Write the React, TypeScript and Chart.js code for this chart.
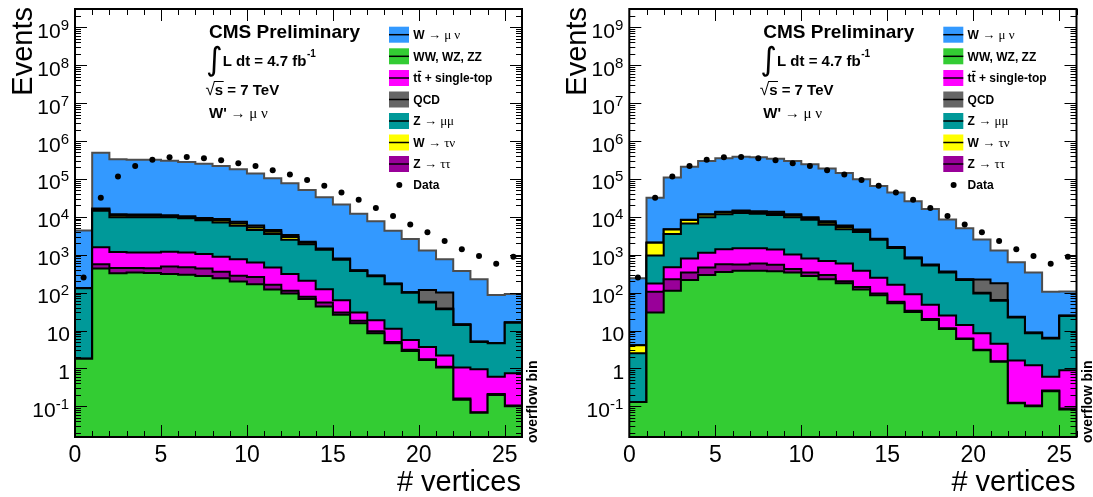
import React, { useEffect, useRef } from 'react';
import { Chart, registerables } from 'chart.js';

Chart.register(...registerables);

const SANS = '"Liberation Sans", Arial, Helvetica, sans-serif';
const SERIF = '"Liberation Serif", "DejaVu Serif", serif';

// bin lower edges (last entry = upper edge of the overflow bin)
const binEdges = [0, 1, 2, 3, 4, 5, 6, 7, 8, 9, 10, 11, 12, 13, 14, 15, 16, 17, 18, 19, 20, 21, 22, 23, 24, 25, 26];
const xTickValues = [0, 5, 10, 15, 20, 25];
const xTickLabels = ['0', '5', '10', '15', '20', '25'];
const yExponents = [-1, 0, 1, 2, 3, 4, 5, 6, 7, 8, 9];
const Y_MIN = 0.0155;
const Y_MAX = 3.04e9;

// observed data (same in both panels)
const dataCounts = [250, 32000, 115000, 220000, 320000, 370000, 380000, 350000, 310000, 260000, 220000, 170000, 130000, 93000, 66000, 44000, 28000, 17000, 10500, 6300, 3900, 2300, 1400, 930, 580, 890];

// left panel (no reweighting)
const leftWW = [1.8, 435, 325, 340, 330, 310, 295, 275, 240, 195, 165, 120, 95, 68, 43, 26, 15.5, 8.5, 4.6, 2.9, 1.66, 1.05, 0.15, 0.068, 0.2, 0.1];
const leftZtautau = [0, 125, 120, 105, 110, 180, 175, 155, 115, 85, 95, 40, 17, 10, 12, 4, 2.5, 1, 0.4, 0.2, 0.09, 0.05, 0.01, 0.002, 0.01, 0.005];
const leftTop = [0, 1020, 735, 705, 710, 710, 680, 620, 535, 480, 360, 300, 198, 127, 68, 33, 12, 9.1, 6.2, 2.5, 1.95, 1.1, 0.89, 0.88, 0.39, 0.64];
const leftZmumu = [128, 12900, 8600, 8650, 8650, 8500, 7950, 7050, 6200, 5040, 3880, 3040, 2190, 1695, 1227, 677, 340, 251, 154, 94, 51, 34, 13, 4, 4, 15.3];
const leftWtaunu = [0, 1100, 1000, 900, 900, 700, 700, 650, 850, 850, 750, 550, 450, 170, 60, 30, 12, 9, 6, 2, 3, 2, 0.3, 0.1, 0.05, 0.3];
const leftQCD = [0, 900, 900, 800, 800, 600, 600, 550, 750, 750, 650, 450, 350, 130, 40, 20, 8, 6, 4, 1, 60, 62, 0.2, 0.1, 0.05, 0.2];
const leftWmunu = [4200, 474000, 318000, 308000, 308000, 289000, 270000, 241000, 211000, 173000, 134000, 100000, 73000, 49000, 31500, 20200, 11600, 7400, 4100, 2500, 1180, 660, 355, 220, 82, 75];

// right panel (pile-up reweighted)
const rightWW = [0.13, 30, 112, 215, 290, 350, 380, 380, 365, 340, 275, 225, 176, 120, 85, 52, 31, 19, 11, 6, 3.0, 1.5, 0.12, 0.1, 0.25, 0.083];
const rightZtautau = [0, 75, 113, 125, 170, 210, 170, 210, 175, 80, 65, 65, 24, 20, 10, 5, 2, 1, 0.5, 0.2, 0.1, 0.05, 0.005, 0.005, 0.01, 0.004];
const rightTop = [0, 70, 245, 460, 670, 840, 930, 890, 840, 600, 460, 390, 390, 240, 150, 103, 57, 28, 13.5, 7.8, 5.4, 2.95, 1.48, 1.1, 0.34, 0.81];
const rightZmumu = [2.37, 785, 3030, 5900, 8670, 10300, 11120, 10520, 9820, 8780, 7500, 5520, 4110, 3620, 2255, 1340, 710, 472, 315, 201, 86.5, 56.5, 20.4, 7.3, 5.6, 23.1];
const rightWtaunu = [1.6, 1100, 1150, 1500, 1600, 1500, 1200, 1100, 1300, 1000, 800, 800, 700, 350, 90, 55, 30, 18, 12, 6, 4, 3, 0.6, 0.2, 0.1, 0.6];
const rightQCD = [0, 40, 50, 100, 300, 500, 900, 900, 1200, 900, 700, 600, 500, 250, 60, 35, 20, 12, 8, 4, 123, 112, 0.4, 0.1, 0.1, 0.4];
const rightWmunu = [236, 29900, 105000, 202000, 283000, 336000, 370000, 356000, 326000, 283000, 235000, 182000, 137000, 93000, 62000, 42000, 25000, 15500, 8100, 4800, 2300, 1120, 607, 331, 99, 82];

// stacking order bottom -> top
const stackColors = ['#33cc33', '#990099', '#ff00ff', '#009999', '#ffff00', '#666666', '#3399ff'];
const stackLineColors = ['#000000', '#000000', '#000000', '#000000', '#000000', '#000000', '#4d4d4d'];

// legend (top -> bottom)
const legendColors = ['#3399ff', '#33cc33', '#ff00ff', '#666666', '#009999', '#ffff00', '#990099'];
const legendBold = ['W', 'WW, WZ, ZZ', 't', 'QCD', 'Z', 'W', 'Z'];
const legendSymbol = [' \u2192 \u03bc \u03bd', '', '', '', ' \u2192 \u03bc\u03bc', ' \u2192 \u03c4\u03bd', ' \u2192 \u03c4\u03c4'];

function buildDatasets(components: number[][]) {
  let cum = components[0].map(() => 0);
  const ds: any[] = [];
  components.forEach((vals, k) => {
    cum = cum.map((c, i) => c + vals[i]);
    const snapshot = cum.slice();
    const pts = binEdges.map((x, i) => ({ x, y: snapshot[Math.min(i, snapshot.length - 1)] }));
    ds.push({
      type: 'line',
      data: pts,
      stepped: true,
      fill: 'start',
      backgroundColor: stackColors[k],
      borderColor: stackLineColors[k],
      borderWidth: 2,
      borderJoinStyle: 'miter',
      pointRadius: 0,
      order: k + 1,
    });
  });
  ds.push({
    type: 'line',
    data: dataCounts.map((v, i) => ({ x: binEdges[i] + 0.5, y: v })),
    showLine: false,
    pointRadius: 3,
    pointBackgroundColor: '#000',
    pointBorderWidth: 0,
    order: 0,
  });
  return ds;
}

function textRuns(ctx: CanvasRenderingContext2D, x: number, y: number, parts: [string, string][]) {
  let cx = x;
  for (const [t, f] of parts) {
    ctx.font = f;
    ctx.fillText(t, cx, y);
    cx += ctx.measureText(t).width;
  }
  return cx;
}

const rootPlugin = {
  id: 'rootStyle',
  afterDraw(chart: any) {
    const ctx: CanvasRenderingContext2D = chart.ctx;
    const { left: L, right: R, top: T, bottom: B } = chart.chartArea;
    const xs = chart.scales.x;
    const ys = chart.scales.y;
    ctx.save();
    ctx.strokeStyle = '#000';
    ctx.fillStyle = '#000';
    ctx.textBaseline = 'alphabetic';

    // ticks
    ctx.lineWidth = 1;
    ctx.beginPath();
    for (let e = -2; e <= 9; e++) {
      for (let m = 1; m <= 9; m++) {
        const v = m * Math.pow(10, e);
        if (v < ys.min || v > ys.max) continue;
        const y = Math.round(ys.getPixelForValue(v)) + 0.5;
        const len = m === 1 ? 12 : 6;
        ctx.moveTo(L, y); ctx.lineTo(L + len, y);
        ctx.moveTo(R, y); ctx.lineTo(R - len, y);
      }
    }
    for (let i = 0; i <= 26; i++) {
      const x = Math.round(xs.getPixelForValue(i)) + 0.5;
      const len = i % 5 === 0 ? 12 : 6;
      ctx.moveTo(x, B); ctx.lineTo(x, B - len);
      ctx.moveTo(x, T); ctx.lineTo(x, T + len);
    }
    ctx.stroke();

    // frame
    ctx.lineWidth = 2;
    ctx.strokeRect(L, T, R - L, B - T);

    // y tick labels
    const xr = L - 6;
    for (const e of yExponents) {
      const y = ys.getPixelForValue(Math.pow(10, e));
      if (e === 0 || e === 1) {
        ctx.font = `21px ${SANS}`;
        ctx.textAlign = 'right';
        ctx.fillText(e === 0 ? '1' : '10', xr + 1, y + 10.5);
      } else {
        const sup = String(e);
        ctx.font = `15px ${SANS}`;
        const w = ctx.measureText(sup).width;
        ctx.textAlign = 'left';
        ctx.fillText(sup, xr - w, y + 2.5);
        ctx.font = `21px ${SANS}`;
        ctx.textAlign = 'right';
        ctx.fillText('10', xr - w, y + 10.5);
      }
    }
    // x tick labels
    ctx.font = `23px ${SANS}`;
    ctx.textAlign = 'center';
    xTickValues.forEach((v, i) => {
      ctx.fillText(xTickLabels[i], xs.getPixelForValue(v), B + 24.7);
    });

    // axis titles
    ctx.font = `29px ${SANS}`;
    ctx.textAlign = 'right';
    ctx.fillText('# vertices', R - 1, 491);
    ctx.save();
    ctx.translate(L - 43, 7);
    ctx.rotate(-Math.PI / 2);
    ctx.textAlign = 'right';
    ctx.fillText('Events', 0, 0);
    ctx.restore();

    ctx.save();
    ctx.translate(R + 15, 443);
    ctx.rotate(-Math.PI / 2);
    ctx.font = `bold 14px ${SANS}`;
    ctx.textAlign = 'left';
    ctx.fillText('overflow bin', 0, 0);
    ctx.restore();

    // annotations
    ctx.textAlign = 'left';
    ctx.font = `bold 19px ${SANS}`;
    ctx.fillText('CMS Preliminary', L + 134, 37.5);
    ctx.font = `32px "DejaVu Sans", ${SANS}`;
    ctx.fillText('\u222b', L + 131, 70);
    const endFb = textRuns(ctx, L + 147.7, 65.5, [['L dt = 4.7 fb', `bold 15px ${SANS}`]]);
    ctx.font = `bold 10px ${SANS}`;
    ctx.fillText('-1', endFb + 0.5, 57);
    ctx.font = `17px ${SANS}`;
    ctx.fillText('\u221a', L + 130.5, 95);
    const sqrtEnd = L + 130.5 + ctx.measureText('\u221a').width;
    ctx.font = `bold 15px ${SANS}`;
    const sW = ctx.measureText('s').width;
    ctx.fillText('s = 7 TeV', sqrtEnd, 95);
    ctx.lineWidth = 1;
    ctx.beginPath();
    ctx.moveTo(sqrtEnd - 1, 81.5);
    ctx.lineTo(sqrtEnd + sW + 0.5, 81.5);
    ctx.stroke();
    textRuns(ctx, L + 134, 118, [["W'", `bold 15px ${SANS}`], [' \u2192 \u03bc \u03bd', `15px ${SERIF}`]]);

    // legend
    const boxX = L + 314;
    const boxTops = [26.7, 48.3, 70, 91.5, 113, 134.5, 156];
    const textX = L + 338.3;
    boxTops.forEach((top, k) => {
      ctx.fillStyle = legendColors[k];
      ctx.fillRect(boxX, top, 20, 16);
      ctx.strokeStyle = '#000';
      ctx.lineWidth = 1.5;
      ctx.beginPath();
      ctx.moveTo(boxX, top + 8);
      ctx.lineTo(boxX + 20, top + 8);
      ctx.stroke();
      ctx.fillStyle = '#000';
      const base = top + 12.3;
      if (k === 2) {
        ctx.font = `bold 12px ${SANS}`;
        const tw = ctx.measureText('t').width;
        ctx.fillText('t', textX, base);
        ctx.fillText('t', textX + tw, base);
        ctx.fillRect(textX + tw + 0.5, base - 11.5, tw - 0.5, 1.2);
        ctx.fillText(' + single-top', textX + 2 * tw, base);
      } else {
        textRuns(ctx, textX, base, [[legendBold[k], `bold 12px ${SANS}`], [legendSymbol[k], `13px ${SERIF}`]]);
      }
    });
    ctx.beginPath();
    ctx.arc(L + 324.3, 185, 3, 0, Math.PI * 2);
    ctx.fill();
    ctx.font = `bold 12px ${SANS}`;
    ctx.fillText('Data', textX, 189.3);

    ctx.restore();
  },
};

function Panel({ components, left, width, axisWidth, padRight }: { components: number[][]; left: number; width: number; axisWidth: number; padRight: number }) {
  const ref = useRef<HTMLCanvasElement>(null);
  useEffect(() => {
    if (!ref.current) return;
    const chart = new Chart(ref.current, {
      type: 'line',
      data: { datasets: buildDatasets(components) },
      options: {
        animation: false,
        responsive: false,
        devicePixelRatio: 1,
        events: [],
        layout: { padding: { top: 9, right: padRight, left: 0, bottom: 0 } },
        plugins: { legend: { display: false }, tooltip: { enabled: false } },
        scales: {
          x: {
            type: 'linear', min: 0, max: 26, bounds: 'data',
            grid: { display: false }, border: { display: false }, ticks: { display: false },
            afterFit: (s: any) => { s.height = 60; },
          },
          y: {
            type: 'logarithmic', min: Y_MIN, max: Y_MAX, bounds: 'data',
            grid: { display: false }, border: { display: false }, ticks: { display: false },
            afterFit: (s: any) => { s.width = axisWidth; },
          },
        },
      } as any,
      plugins: [rootPlugin],
    });
    return () => chart.destroy();
  }, []);
  return (
    <canvas
      ref={ref}
      width={width}
      height={497}
      style={{ position: 'absolute', left, top: 0, width, height: 497 }}
    />
  );
}

export default function App() {
  const leftComponents = [leftWW, leftZtautau, leftTop, leftZmumu, leftWtaunu, leftQCD, leftWmunu];
  const rightComponents = [rightWW, rightZtautau, rightTop, rightZmumu, rightWtaunu, rightQCD, rightWmunu];
  return (
    <div style={{ position: 'absolute', left: 0, top: 0, width: 1093, height: 497, background: '#fff', overflow: 'hidden' }}>
      <Panel components={leftComponents} left={0} width={547} axisWidth={75} padRight={25} />
      <Panel components={rightComponents} left={547} width={546} axisWidth={82.3} padRight={16.5} />
    </div>
  );
}
